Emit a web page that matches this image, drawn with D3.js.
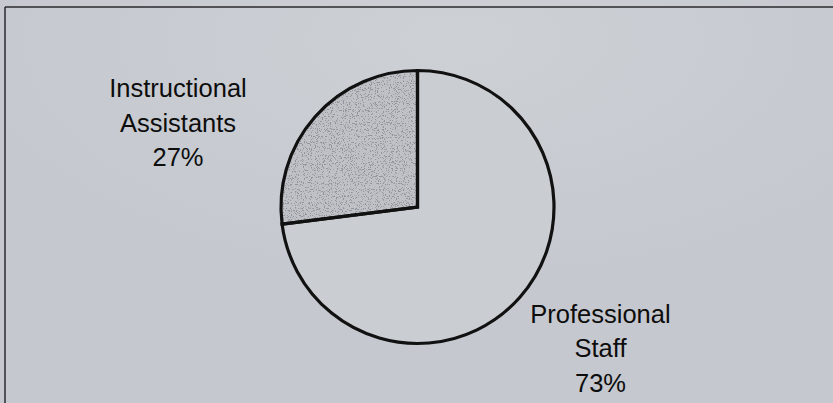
<!DOCTYPE html>
<html>
<head>
<meta charset="utf-8">
<script src="https://cdn.jsdelivr.net/npm/d3@7"></script>
<style>
  html, body { margin: 0; padding: 0; background: #c6c9cf; }
  svg { display: block; }
</style>
</head>
<body>
<svg id="chart" width="833" height="403"></svg>
<script>
// Data
const categories = ["Professional Staff", "Instructional Assistants"];
const values = [73, 27];
const labelLines = [["Professional", "Staff", "73%"], ["Instructional", "Assistants", "27%"]];

const W = 833, H = 403;
const svg = d3.select("#chart");
const defs = svg.append("defs");

// background with slight light area at top center
const rg = defs.append("radialGradient").attr("id", "bg")
  .attr("cx", "0.55").attr("cy", "0.1").attr("r", "0.6");
rg.append("stop").attr("offset", "0").attr("stop-color", "#cdd0d5");
rg.append("stop").attr("offset", "1").attr("stop-color", "#c5c8ce");
svg.append("rect").attr("width", W).attr("height", H).attr("fill", "url(#bg)");

// speckle filter for the shaded slice
const f = defs.append("filter").attr("id", "speck")
  .attr("x", 0).attr("y", 0).attr("width", "100%").attr("height", "100%");
f.append("feTurbulence").attr("type", "fractalNoise").attr("baseFrequency", 0.85)
  .attr("numOctaves", 2).attr("seed", 7).attr("result", "noise");
f.append("feColorMatrix").attr("in", "noise").attr("type", "matrix")
  .attr("values", "0 0 0 0 0.3  0 0 0 0 0.3  0 0 0 0 0.33  14 0 0 0 -8.0")
  .attr("result", "specks");
f.append("feComposite").attr("in", "specks").attr("in2", "SourceGraphic")
  .attr("operator", "atop");

// frame (top and left edges visible)
svg.append("line").attr("x1", 5).attr("y1", 7).attr("x2", W).attr("y2", 7)
  .attr("stroke", "#2a2a2e").attr("stroke-width", 1.5);
svg.append("line").attr("x1", 5).attr("y1", 7).attr("x2", 5).attr("y2", H)
  .attr("stroke", "#2a2a2e").attr("stroke-width", 1.5);

const cx = 417.5, cy = 207, r = 136.5;
const g = svg.append("g").attr("transform", `translate(${cx},${cy})`);

const data = categories.map((c, i) => ({ cat: c, value: values[i], lines: labelLines[i] }));
const pie = d3.pie().sort(null).value(d => d.value).startAngle(0).endAngle(2 * Math.PI);
const arcs = pie(data);
const arc = d3.arc().innerRadius(0).outerRadius(r);
const fills = ["#cacdd2", "#bfc1c6"];

g.selectAll("path.fill").data(arcs).join("path")
  .attr("class", "fill")
  .attr("d", arc)
  .attr("fill", (d, i) => fills[i])
  .attr("filter", (d, i) => i === 1 ? "url(#speck)" : null);

g.selectAll("path.edge").data(arcs).join("path")
  .attr("class", "edge")
  .attr("d", arc)
  .attr("fill", "none")
  .attr("stroke", "#111")
  .attr("stroke-width", 3.2)
  .attr("stroke-linejoin", "miter");

// labels
const labelPos = [[600.5, 322.5], [178, 97]];
const lineGap = 34.7;
data.forEach((d, i) => {
  const t = svg.append("text")
    .attr("text-anchor", "middle")
    .attr("font-family", "Liberation Sans, Arial, sans-serif")
    .attr("font-size", 25.5)
    .attr("fill", "#0d0d0d");
  d.lines.forEach((ln, j) => {
    t.append("tspan").attr("x", labelPos[i][0]).attr("y", labelPos[i][1] + j * lineGap).text(ln);
  });
});
</script>
</body>
</html>
